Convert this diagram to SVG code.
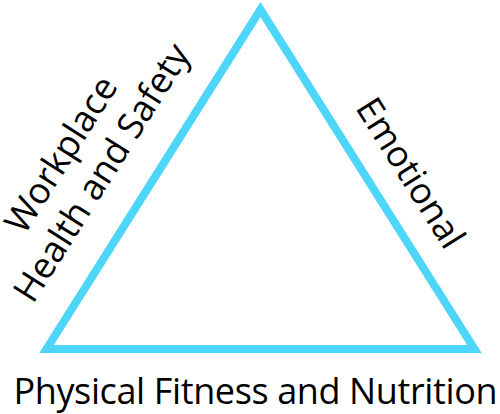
<svg xmlns="http://www.w3.org/2000/svg" width="500" height="414" viewBox="0 0 500 414">
<style>
.lbl{font-family:"Open Sans","Noto Sans","DejaVu Sans",sans-serif;font-size:36px;fill:#000}
.edge{fill:none;stroke:#4dd6fa;stroke-width:8;stroke-linejoin:miter;stroke-miterlimit:10}
</style>
<rect width="500" height="414" fill="#fff"/>
<g id="connectors">
<polygon class="edge" points="260.5,9.5 46.5,349 474.5,349"/>
</g>
<g id="workplace-health-safety" transform="translate(33.1,304.7) rotate(-57.8)">
<text class="lbl" x="0" y="0">Health and Safety</text>
<text class="lbl" x="142" y="-44" text-anchor="middle">Workplace</text>
</g>
<g id="emotional" transform="translate(354.8,107.7) rotate(57.8)">
<text class="lbl" x="0" y="0">Emotional</text>
</g>
<g id="physical-fitness-nutrition">
<text class="lbl" x="13.5" y="403.5" textLength="484" lengthAdjust="spacing">Physical Fitness and Nutrition</text>
</g>
</svg>
